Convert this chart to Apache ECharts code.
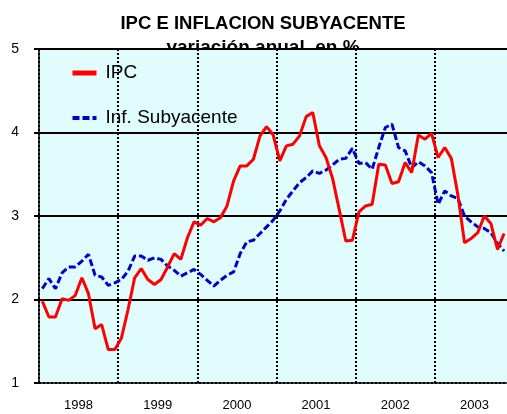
<!DOCTYPE html>
<html>
<head>
<meta charset="utf-8">
<title>IPC e inflacion subyacente</title>
<script src="https://cdn.jsdelivr.net/npm/echarts@6/dist/echarts.min.js"></script>
<style>
  html, body { margin: 0; padding: 0; background: #fff; }
  #main { width: 507px; height: 414px; }
</style>
</head>
<body>
<div id="main"></div>
<script>
// años del eje x
const years = ['1998', '1999', '2000', '2001', '2002', '2003']

// IPC, variación anual en %, mensual desde ene-1998
const ipc = [
  1.98, 1.79, 1.79, 2.01, 1.99, 2.05, 2.26, 2.07, 1.65, 1.70, 1.40, 1.40,
  1.54, 1.88, 2.26, 2.37, 2.24, 2.18, 2.24, 2.39, 2.55, 2.48, 2.74, 2.93,
  2.89, 2.97, 2.93, 2.98, 3.12, 3.42, 3.60, 3.60, 3.68, 3.96, 4.07, 3.97,
  3.66, 3.84, 3.86, 3.96, 4.19, 4.24, 3.84, 3.70, 3.45, 3.08, 2.70, 2.71,
  3.05, 3.12, 3.14, 3.62, 3.61, 3.39, 3.41, 3.64, 3.52, 3.97, 3.92, 3.99,
  3.70, 3.82, 3.69, 3.25, 2.68, 2.73, 2.80, 3.00, 2.91, 2.60, 2.79
]

// inflación subyacente
const subyacente = [
  2.13, 2.25, 2.13, 2.32, 2.39, 2.39, 2.46, 2.54, 2.29, 2.27, 2.17, 2.20,
  2.24, 2.34, 2.52, 2.52, 2.47, 2.50, 2.48, 2.40, 2.35, 2.28, 2.32, 2.36,
  2.30, 2.23, 2.16, 2.23, 2.29, 2.33, 2.55, 2.69, 2.71, 2.79, 2.87, 2.95,
  3.06, 3.20, 3.30, 3.40, 3.46, 3.54, 3.51, 3.55, 3.61, 3.68, 3.69, 3.81,
  3.63, 3.64, 3.56, 3.82, 4.06, 4.10, 3.82, 3.78, 3.58, 3.65, 3.60, 3.52,
  3.14, 3.30, 3.24, 3.21, 3.00, 2.93, 2.87, 2.85, 2.80, 2.67, 2.58
]

// meses (una categoría por mes)
const months = []
years.forEach(y => {
  for (let m = 1; m <= 12; m++) months.push(y + '-' + m)
})

const myChart = echarts.init(document.getElementById('main'))
const option = {
  animation: false,
  textStyle: { fontFamily: 'Liberation Sans, Arial, sans-serif' },
  title: [
    {
      text: 'IPC E INFLACION SUBYACENTE',
      left: 258,
      textAlign: 'center',
      top: 9,
      z: -1,
      textStyle: { fontSize: 18.5, fontWeight: 'bold', color: '#000' }
    },
    {
      text: 'variación anual  en %',
      left: 258,
      textAlign: 'center',
      top: 33,
      z: -1,
      textStyle: { fontSize: 19, fontWeight: 'bold', color: '#000' }
    }
  ],
  grid: {
    left: 39,
    width: 475,
    top: 49,
    bottom: 31,
    outerBoundsMode: 'none',
    containLabel: false,
    show: true,
    backgroundColor: '#e0fcfc',
    borderWidth: 0
  },
  legend: {
    orient: 'vertical',
    left: 65,
    top: 58,
    itemWidth: 24,
    itemHeight: 14,
    itemGap: 25,
    itemStyle: { opacity: 0 },
    textStyle: { fontSize: 19, color: '#000', lineHeight: 20, padding: [0, 0, 0, 4] },
    data: [
      { name: 'IPC', lineStyle: { width: 5 } },
      { name: 'Inf. Subyacente', lineStyle: { width: 4 } }
    ]
  },
  xAxis: [
    {
      type: 'category',
      data: years,
      boundaryGap: true,
      axisLine: { show: true, lineStyle: { color: '#000', width: 2, type: [2, 2] } },
      axisTick: { show: false },
      axisLabel: { color: '#000', fontSize: 13, margin: 16 },
      splitLine: { show: true, lineStyle: { color: '#000', width: 2, type: [2, 2] } }
    },
    {
      type: 'category',
      data: months,
      boundaryGap: true,
      show: false
    }
  ],
  yAxis: {
    type: 'value',
    min: 1,
    max: 5,
    interval: 1,
    axisLine: { show: true, lineStyle: { color: '#000', width: 2, type: [2, 2] } },
    axisTick: { show: true, length: 5, lineStyle: { color: '#000', width: 2 } },
    axisLabel: { color: '#000', fontSize: 14, margin: 20 },
    splitLine: {
      show: true,
      lineStyle: { color: ['transparent', '#000', '#000', '#000', '#000'], width: 2 }
    }
  },
  series: [
    {
      name: 'IPC',
      type: 'line',
      xAxisIndex: 1,
      data: ipc,
      symbol: 'none',
      lineStyle: { color: '#ff0000', width: 3 },
      itemStyle: { color: '#ff0000' },
      z: 4
    },
    {
      name: 'Inf. Subyacente',
      type: 'line',
      xAxisIndex: 1,
      data: subyacente,
      symbol: 'none',
      lineStyle: { color: '#0000cc', width: 3, type: [7, 3] },
      itemStyle: { color: '#0000cc' },
      z: 3
    }
  ]
}
myChart.setOption(option)
</script>
</body>
</html>
